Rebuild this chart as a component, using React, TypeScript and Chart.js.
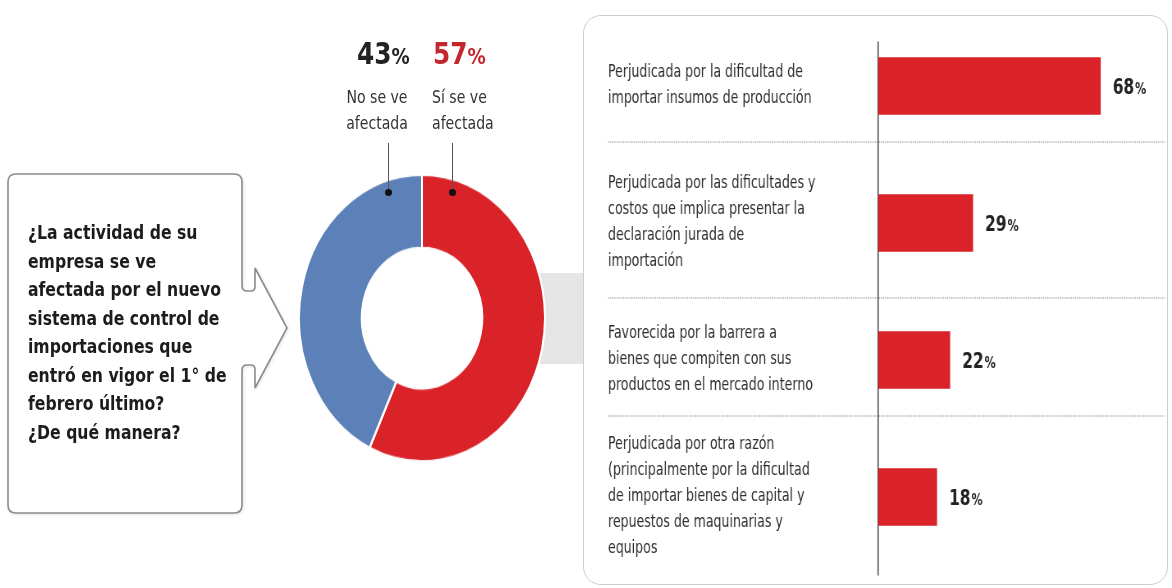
import React, { useEffect, useRef } from 'react';
import { Chart, registerables } from 'chart.js';

Chart.register(...registerables);

const FONT = '"DejaVu Sans Condensed", "DejaVu Sans", "Liberation Sans", sans-serif';

// ---- data ----
const donutLabels = ['Sí se ve afectada', 'No se ve afectada'];
const donutValues = [57, 43];
const donutColors = ['#da2229', '#5b81b8'];

const barLabels: string[][] = [
  ['Perjudicada por la dificultad de', 'importar insumos de producción'],
  ['Perjudicada por las dificultades y', 'costos que implica presentar la', 'declaración jurada de', 'importación'],
  ['Favorecida por la barrera a', 'bienes que compiten con sus', 'productos en el mercado interno'],
  ['Perjudicada por otra razón', '(principalmente por la dificultad', 'de importar bienes de capital y', 'repuestos de maquinarias y', 'equipos'],
];
const barValues = [68, 29, 22, 18];
const barColor = '#da2229';

const questionLines = [
  '¿La actividad de su',
  'empresa se ve',
  'afectada por el nuevo',
  'sistema de control de',
  'importaciones que',
  'entró en vigor el 1° de',
  'febrero último?',
  '¿De qué manera?',
];

// horizontal condensing factor for the bar panel canvas (its text is a condensed face)
const SX = 0.82;
const LINE_H = 26;

const panelDecor = {
  id: 'panelDecor',
  beforeDatasetsDraw(chart: any) {
    const { ctx, chartArea } = chart;
    const y = chart.scales.y;
    ctx.save();
    ctx.strokeStyle = '#b8b8b8';
    ctx.lineWidth = 2;
    ctx.setLineDash([1.2, 1.4]);
    for (let i = 0; i < barLabels.length - 1; i++) {
      const bottomA = y.getPixelForValue(i) + (barLabels[i].length * LINE_H) / 2;
      const topB = y.getPixelForValue(i + 1) - (barLabels[i + 1].length * LINE_H) / 2;
      const py = Math.round((bottomA + topB) / 2);
      ctx.beginPath();
      ctx.moveTo(y.left, py);
      ctx.lineTo(chartArea.right + 25 / SX, py);
      ctx.stroke();
    }
    ctx.setLineDash([]);
    ctx.strokeStyle = '#555';
    ctx.lineWidth = 1.6;
    ctx.beginPath();
    ctx.moveTo(chartArea.left, chartArea.top + 24);
    ctx.lineTo(chartArea.left, chartArea.bottom + 10);
    ctx.stroke();
    ctx.restore();
  },
  afterDatasetsDraw(chart: any) {
    const { ctx } = chart;
    const meta = chart.getDatasetMeta(0);
    ctx.save();
    ctx.fillStyle = '#222';
    ctx.textBaseline = 'alphabetic';
    ctx.textAlign = 'left';
    meta.data.forEach((bar: any, i: number) => {
      const { x, y } = bar.getProps(['x', 'y'], true);
      const num = String(barValues[i]);
      ctx.font = `bold 21px ${FONT}`;
      const w = ctx.measureText(num).width;
      ctx.fillText(num, x + 12 / SX, y + 7.5);
      ctx.font = `bold 15px ${FONT}`;
      ctx.fillText('%', x + 12 / SX + w + 1, y + 7.5);
    });
    ctx.restore();
  },
};

function Donut() {
  const ref = useRef<HTMLCanvasElement>(null);
  useEffect(() => {
    const chart = new Chart(ref.current!, {
      type: 'doughnut',
      data: {
        labels: donutLabels,
        datasets: [{ data: donutValues, backgroundColor: donutColors, borderColor: '#fff', borderWidth: 2 }],
      },
      options: {
        animation: false,
        responsive: false,
        cutout: '49%',
        layout: { padding: 0 },
        plugins: { legend: { display: false }, tooltip: { enabled: false } },
      },
    });
    return () => chart.destroy();
  }, []);
  return (
    <div style={{ position: 'absolute', left: 298, top: 194, width: 248, height: 248, transform: 'scaleY(1.165)', transformOrigin: '50% 50%', zIndex: 2 }}>
      <canvas ref={ref} width={248} height={248} style={{ display: 'block' }} />
    </div>
  );
}

function Bars() {
  const ref = useRef<HTMLCanvasElement>(null);
  const W = 589;
  const H = 570;
  useEffect(() => {
    const chart = new Chart(ref.current!, {
      type: 'bar',
      data: {
        labels: barLabels,
        datasets: [{ data: barValues, backgroundColor: barColor, barPercentage: 0.84, categoryPercentage: 0.5 }],
      },
      options: {
        indexAxis: 'y',
        animation: false,
        responsive: false,
        layout: { padding: { left: 25 / SX, right: 32 / SX, top: 2.5, bottom: 19.5 } },
        scales: {
          x: { display: false, min: 0, max: 80 },
          y: {
            border: { display: false },
            grid: { display: false },
            ticks: {
              crossAlign: 'far',
              autoSkip: false,
              padding: 0,
              color: '#2e2e2e',
              font: { family: FONT, size: 17, lineHeight: `${LINE_H}px` },
            },
            afterFit: (s: any) => {
              s.width = 270 / SX;
              s.paddingTop = 0;
              s.paddingBottom = 0;
            },
          },
        },
        plugins: { legend: { display: false }, tooltip: { enabled: false } },
      } as any,
      plugins: [panelDecor],
    });
    return () => chart.destroy();
  }, []);
  return (
    <canvas
      ref={ref}
      width={Math.round(W / SX)}
      height={H}
      style={{ position: 'absolute', left: 583, top: 15, width: W, height: H, zIndex: 4, display: 'block' }}
    />
  );
}

export default function App() {
  useEffect(() => {
    document.body.style.margin = '0';
    document.body.style.background = '#fff';
  }, []);
  const no = donutValues[1];
  const si = donutValues[0];
  return (
    <div style={{ position: 'absolute', left: 0, top: 0, width: 1172, height: 588, overflow: 'hidden', background: '#fff', fontFamily: FONT }}>
      {/* question box with arrow */}
      <svg width={300} height={588} style={{ position: 'absolute', left: 0, top: 0, zIndex: 1 }}>
        <path
          d="M 16 174 H 234 Q 242 174 242 182 V 286 Q 242 291 247 291 H 251 Q 255 291 255 287 V 268 L 287 328 L 255 388 V 369 Q 255 365 251 365 H 247 Q 242 365 242 370 V 505 Q 242 513 234 513 H 16 Q 8 513 8 505 V 182 Q 8 174 16 174 Z"
          fill="#fff"
          stroke="#8c8c8c"
          strokeWidth={1.6}
          style={{ filter: 'drop-shadow(1px 1px 1.5px rgba(0,0,0,0.10))' }}
        />
      </svg>
      <div style={{ position: 'absolute', left: 28, top: 218, zIndex: 2, fontWeight: 'bold', fontSize: 20, lineHeight: '28.5px', color: '#1c1c1c', whiteSpace: 'nowrap', transform: 'scaleX(0.87)', transformOrigin: '0 0' }}>
        {questionLines.map((l, i) => (
          <div key={i}>{l}</div>
        ))}
      </div>

      {/* connector band */}
      <div style={{ position: 'absolute', left: 520, top: 273, width: 63, height: 91, background: '#e5e5e5', zIndex: 0 }} />

      {/* donut labels */}
      <div style={{ position: 'absolute', left: 357, top: 36, zIndex: 3, color: '#222', whiteSpace: 'nowrap', transform: 'scaleX(0.92)', transformOrigin: '0 0' }}>
        <div style={{ fontWeight: 'bold', fontSize: 30, lineHeight: '36px' }}>
          {no}<span style={{ fontSize: 22 }}>%</span>
        </div>
      </div>
      <div style={{ position: 'absolute', left: 337, top: 84, width: 80, textAlign: 'center', zIndex: 3, color: '#333', fontSize: 18, lineHeight: '26px', whiteSpace: 'nowrap', transform: 'scaleX(0.87)', transformOrigin: '50% 0' }}>
        <div>No se ve</div>
        <div>afectada</div>
      </div>
      <div style={{ position: 'absolute', left: 433, top: 36, zIndex: 3, color: '#c4262e', whiteSpace: 'nowrap', transform: 'scaleX(0.92)', transformOrigin: '0 0' }}>
        <div style={{ fontWeight: 'bold', fontSize: 30, lineHeight: '36px' }}>
          {si}<span style={{ fontSize: 22 }}>%</span>
        </div>
      </div>
      <div style={{ position: 'absolute', left: 432, top: 84, zIndex: 3, color: '#333', fontSize: 18, lineHeight: '26px', whiteSpace: 'nowrap', transform: 'scaleX(0.87)', transformOrigin: '0 0' }}>
        <div>Sí se ve</div>
        <div>afectada</div>
      </div>
      {/* leader lines and dots */}
      <div style={{ position: 'absolute', left: 387.5, top: 143, width: 1.5, height: 49, background: '#555', zIndex: 3 }} />
      <div style={{ position: 'absolute', left: 451.5, top: 143, width: 1.5, height: 49, background: '#555', zIndex: 3 }} />
      <div style={{ position: 'absolute', left: 384.5, top: 188.5, width: 7, height: 7, borderRadius: '50%', background: '#111', zIndex: 3 }} />
      <div style={{ position: 'absolute', left: 448.5, top: 188.5, width: 7, height: 7, borderRadius: '50%', background: '#111', zIndex: 3 }} />

      <Donut />

      {/* right panel */}
      <div style={{ position: 'absolute', left: 583, top: 15, width: 585, height: 570, boxSizing: 'border-box', border: '1.5px solid #cdcdcd', borderRadius: 18, background: '#fff', zIndex: 3 }} />
      <Bars />
    </div>
  );
}
